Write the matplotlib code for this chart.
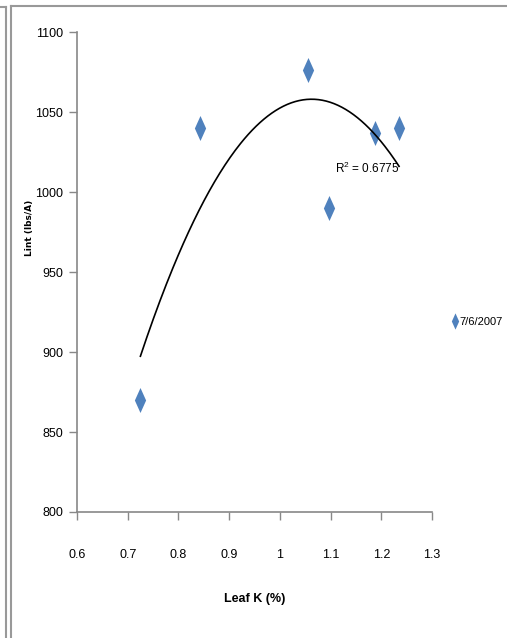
import numpy as np
import matplotlib as mpl
mpl.use("Agg")
import matplotlib.pyplot as plt
from matplotlib.lines import Line2D

# Leaf K (%) vs lint yield, 7/6/2007
leaf_k = [0.725, 0.842, 1.055, 1.096, 1.188, 1.235]
lint = [870, 1040, 1076, 990, 1037, 1040]
series_name = "7/6/2007"
r2_text = "R$^2$ = 0.6775"

xticks = [0.6, 0.7, 0.8, 0.9, 1, 1.1, 1.2, 1.3]
xtick_labels = ["0.6", "0.7", "0.8", "0.9", "1", "1.1", "1.2", "1.3"]
yticks = [800, 850, 900, 950, 1000, 1050, 1100]

plt.rcParams['font.family'] = ['Liberation Sans', 'DejaVu Sans']
plt.rcParams['mathtext.fontset'] = 'custom'
plt.rcParams['mathtext.rm'] = 'Liberation Sans'

fig = plt.figure(figsize=(5.07, 6.38), dpi=100)
ax = fig.add_axes([0.1519, 0.1975, 0.7002, 0.7523])

# tall thin diamond like Excel's marker
diamond = [(0, 1), (0.45, 0), (0, -1), (-0.45, 0), (0, 1)]
blue = '#4F81BD'
ax.plot(leaf_k, lint, linestyle='none', marker=diamond, markersize=18,
        color=blue, markeredgewidth=0, label=series_name)

# 2nd order polynomial trendline
coef = np.polyfit(leaf_k, lint, 2)
xs = np.linspace(min(leaf_k), max(leaf_k), 200)
ax.plot(xs, np.polyval(coef, xs), color='black', lw=1.2)

ax.text(1.108, 1015, r2_text, fontsize=8.5, ha='left', va='center')

ax.set_xlim(0.6, 1.3)
ax.set_ylim(800, 1100)
ax.set_xticks(xticks)
ax.set_xticklabels(xtick_labels)
ax.set_yticks(yticks)
ax.tick_params(axis='both', labelsize=9, color='#888888', length=6,
               width=1)
ax.tick_params(axis='y', pad=4)
ax.tick_params(axis='x', pad=21)
for s in ['top', 'right']:
    ax.spines[s].set_visible(False)
for s in ['left', 'bottom']:
    ax.spines[s].set_color('#888888')
    ax.spines[s].set_linewidth(1.2)

ax.set_xlabel('Leaf K (%)', fontsize=9, fontweight='bold')
ax.xaxis.set_label_coords(0.5, -0.168)
ax.set_ylabel('Lint (lbs/A)', fontsize=6.5, fontweight='bold',
              family='DejaVu Sans')
ax.yaxis.set_label_coords(-0.12, 0.592)

leg = fig.legend(loc='center left', bbox_to_anchor=(0.892, 0.495),
                 frameon=False, fontsize=8, handletextpad=0.1,
                 handlelength=0.5, markerscale=0.65, borderaxespad=0,
                 borderpad=0)

# outer frame lines (left double border, top)
gray = '#999999'
fig.add_artist(Line2D([6/507, 6/507], [0, 1 - 7/638], color=gray, lw=1.5,
                      transform=fig.transFigure))
fig.add_artist(Line2D([0, 6/507], [1 - 7/638, 1 - 7/638], color=gray,
                      lw=1.5, transform=fig.transFigure))
fig.add_artist(Line2D([11/507, 11/507], [0, 1 - 6/638], color=gray, lw=1.5,
                      transform=fig.transFigure))
fig.add_artist(Line2D([11/507, 1], [1 - 6/638, 1 - 6/638], color=gray,
                      lw=1.5, transform=fig.transFigure))

fig.savefig('out.png', dpi=100)
